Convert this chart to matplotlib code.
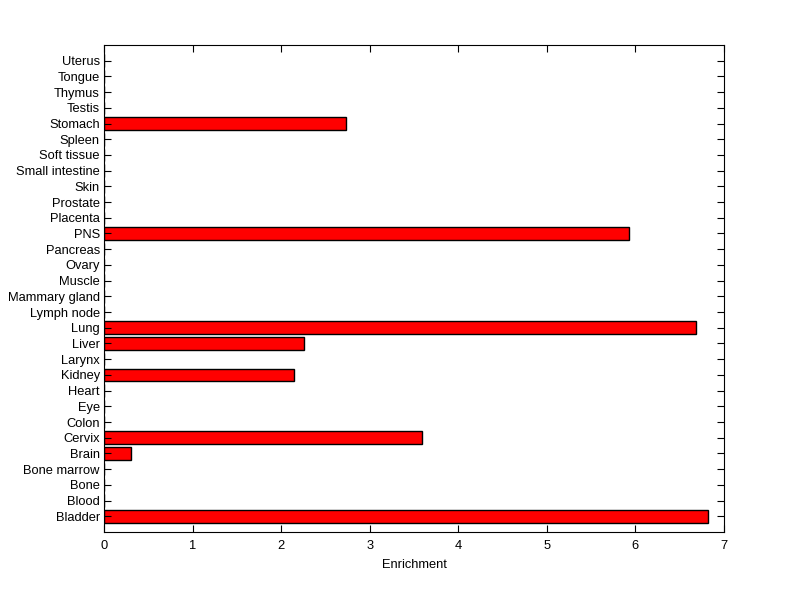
import matplotlib
matplotlib.use("Agg")
import matplotlib.pyplot as plt

tissues = ["Bladder", "Blood", "Bone", "Bone marrow", "Brain", "Cervix", "Colon",
           "Eye", "Heart", "Kidney", "Larynx", "Liver", "Lung", "Lymph node",
           "Mammary gland", "Muscle", "Ovary", "Pancreas", "PNS", "Placenta",
           "Prostate", "Skin", "Small intestine", "Soft tissue", "Spleen",
           "Stomach", "Testis", "Thymus", "Tongue", "Uterus"]
enrichment = [6.82, 0, 0, 0, 0.31, 3.59, 0, 0, 0, 2.14, 0, 2.26, 6.68, 0,
              0, 0, 0, 0, 5.93, 0, 0, 0, 0, 0, 0, 2.73, 0, 0, 0, 0]
xticks = [0, 1, 2, 3, 4, 5, 6, 7]

plt.rcParams['font.family'] = ['Liberation Sans', 'DejaVu Sans']
fig = plt.figure(figsize=(8, 5.99), dpi=100)
ax = fig.add_axes([0.13, 0.1119, 0.775, 0.813])

pos = list(range(len(tissues)))
vals = [v if v > 0 else 0 for v in enrichment]
ax.barh(pos, vals, height=0.8, color="#ff0000", edgecolor="black", linewidth=1.0)

ax.set_xlim(0, 7)
ax.set_ylim(-1, 30)
ax.set_xticks(xticks)
ax.set_yticks(pos)
ax.set_yticklabels(tissues)
ax.tick_params(direction="in", length=5, width=0.8, labelsize=9.3,
               top=True, right=True)
ax.tick_params(axis="y", pad=3)
ax.tick_params(axis="x", pad=6)
for s in ax.spines.values():
    s.set_linewidth(0.8)
ax.set_xlabel("Enrichment", fontsize=9.3, labelpad=5)

fig.savefig("out.png", dpi=100)
